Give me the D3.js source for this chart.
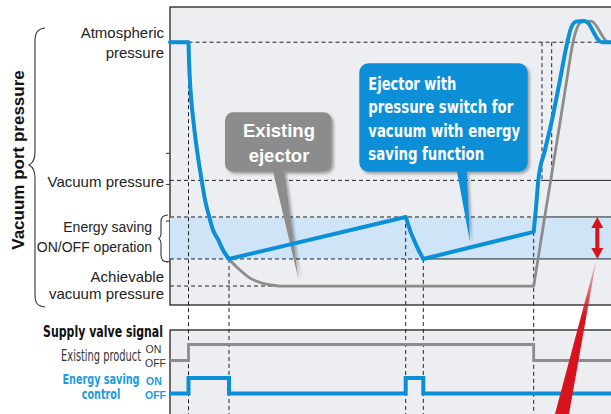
<!DOCTYPE html>
<html>
<head>
<meta charset="utf-8">
<script src="https://cdn.jsdelivr.net/npm/d3@7"></script>
<style>
  body { margin: 0; background: #fff; }
  svg { display: block; }
</style>
</head>
<body>
<script>
// time in ms (x), vacuum port pressure in kPa gauge (y)
var levels = { atm: 0, vac: -51, bandTop: -64.5, bandBot: -80, achievable: -90 };

// existing ejector (grey) pressure curve
var greyHold = [[0,0],[18.5,0]];
var greyDrop = [[18.5,0],[19,-6.6],[20.5,-17.6],[23.3,-28.7],[27,-39.8],[31.7,-51],[35,-58.2],[39.3,-64.5],[43,-69.3],[48.3,-73],[53,-76.7],[59,-80],[70,-84.1],[80,-87.1],[93,-89],[110,-90]];
var greyFlat = [[110,-90],[363.7,-90]];
var greyRecover = [[363.7,-90],[374.7,-64.5],[380.7,-51],[390.4,-28.7],[396.8,-13.9],[403,0],[407,5.2],[412,7.5],[421,7.8],[425,6.7],[430,3.8],[434,1.4],[438,0],[441,0]];

// energy saving ejector (blue) pressure curve
var blueHold = [[0,0],[18.5,0]];
var blueDrop = [[18.5,0],[19,-6.6],[20.5,-17.6],[23.3,-28.7],[27,-39.8],[31.7,-51],[35,-58.2],[39.3,-64.5],[43,-69.3],[48.3,-73],[53,-76.7],[59,-80]];
var blueLeak1 = [[59,-80],[235.7,-64.5]];
var blueDrop2 = [[235.7,-64.5],[238,-67.1],[240.5,-69.9],[244,-73],[248,-76.3],[253.3,-80]];
var blueLeak2 = [[253.3,-80],[363.7,-70]];
var blueRecover = [[363.7,-70],[366,-61.2],[368.3,-51],[375,-39.8],[382,-28.7],[390,-13.9],[397.3,0],[401,5.2],[406,7.6],[414,7.8],[419,6.7],[424,3.4],[428,1],[432,0],[441,0]];

// supply valve signals (1 = ON, 0 = OFF)
var existingSignal = [[0,0],[18.5,1],[363.7,0],[441,0]];
var savingSignal = [[0,0],[18.5,1],[59,0],[235.7,1],[253.3,0],[441,0]];

// vertical guide lines: time, pressure they start from
var guides = [[18.5,0],[59,-80],[235.7,-64.5],[253.3,-80],[363.7,-70]];
var riseGuides = [372,381.7];

var W = 611, H = 414;
var BLUE = "#0a8fd8", GREY = "#8c8c8c", BG = "#eceef1", BAND = "#cfe5f7";
var NARROW = "'Liberation Sans Narrow','Arial Narrow','DejaVu Sans Condensed',sans-serif";
var SANS = "'Liberation Sans',Arial,sans-serif";

var svg = d3.select("body").append("svg").attr("width", W).attr("height", H);
var defs = svg.append("defs");
var f = defs.append("filter").attr("id", "shadow").attr("x", "-20%").attr("y", "-20%").attr("width", "150%").attr("height", "150%");
f.append("feDropShadow").attr("dx", 2).attr("dy", 2).attr("stdDeviation", 1.8).attr("flood-color", "#000").attr("flood-opacity", 0.35);
var rg = defs.append("linearGradient").attr("id", "redfade").attr("x1", 0).attr("y1", 0).attr("x2", 0).attr("y2", 1);
rg.append("stop").attr("offset", "0%").attr("stop-color", "#d7141e").attr("stop-opacity", 0.2);
rg.append("stop").attr("offset", "35%").attr("stop-color", "#d7141e").attr("stop-opacity", 1);

var x = d3.scaleLinear().domain([0, 441]).range([170, 611]);
var y = d3.scaleLinear().domain([13, -97]).range([7, 305]);
var yExist = d3.scaleLinear().domain([0, 1]).range([360.5, 344.5]);
var ySave = d3.scaleLinear().domain([0, 1]).range([393.5, 378]);

////////////////////////////
// Panels
svg.append("rect").attr("x", x(0)).attr("y", y(13)).attr("width", 460).attr("height", y(-97) - y(13))
    .attr("fill", BG).attr("stroke", "#111").attr("stroke-width", 1.2);
svg.append("rect").attr("x", x(0)).attr("y", y(levels.bandTop)).attr("width", 460)
    .attr("height", y(levels.bandBot) - y(levels.bandTop)).attr("fill", BAND);
svg.append("rect").attr("x", x(0)).attr("y", 330).attr("width", 460).attr("height", 100)
    .attr("fill", BG).attr("stroke", "#111").attr("stroke-width", 1.2);

// little ticks on the pressure axis
[-41, -52.5, -66, -81].forEach(function(p) {
    svg.append("line").attr("x1", x(0) - 4).attr("x2", x(0)).attr("y1", y(p)).attr("y2", y(p))
        .attr("stroke", "#333").attr("stroke-width", 1);
});

////////////////////////////
// Reference lines
function hline(p, t0, t1, dashed) {
    svg.append("line").attr("x1", x(t0)).attr("x2", x(t1)).attr("y1", y(p)).attr("y2", y(p))
        .attr("stroke", "#222").attr("stroke-width", 1)
        .attr("stroke-dasharray", dashed ? "4,3" : null);
}
hline(levels.atm, 18.5, 441, true);
hline(levels.vac, 0, 372, true);
hline(levels.vac, 372, 441, false);
hline(levels.bandTop, 0, 363.7, true);
hline(levels.bandTop, 363.7, 441, false);
hline(levels.bandBot, 0, 253.3, true);
hline(levels.bandBot, 253.3, 441, false);
hline(levels.achievable, 0, 110, true);

guides.forEach(function(g) {
    svg.append("line").attr("x1", x(g[0])).attr("x2", x(g[0])).attr("y1", y(g[1])).attr("y2", H)
        .attr("stroke", "#222").attr("stroke-width", 1).attr("stroke-dasharray", "4,3");
});
riseGuides.forEach(function(t) {
    svg.append("line").attr("x1", x(t)).attr("x2", x(t)).attr("y1", y(levels.atm)).attr("y2", y(levels.vac))
        .attr("stroke", "#222").attr("stroke-width", 1).attr("stroke-dasharray", "4,3");
});

////////////////////////////
// Text helper: squeezes a label to a given width with a horizontal scale
function label(txt, xx, yy, opts) {
    opts = opts || {};
    var t = svg.append("text").attr("dominant-baseline", opts.baseline || "central")
        .attr("text-anchor", opts.anchor || "end").attr("fill", opts.fill || "#222")
        .attr("font-family", opts.family || SANS).attr("font-size", opts.size || "15px")
        .attr("font-weight", opts.weight || "normal")
        .text(txt);
    var s = 1;
    if (opts.len) s = opts.len / t.node().getComputedTextLength();
    t.attr("transform", "translate(" + xx + "," + yy + ") scale(" + s + ",1)");
    return t;
}

////////////////////////////
// Callouts (pointer + rounded box)
var calloutG = svg.append("g").attr("filter", "url(#shadow)");
calloutG.append("path").attr("d", "M272.7,170 L284.3,170 L298.3,278.3 Z").attr("fill", GREY);
calloutG.append("rect").attr("x", 225).attr("y", 112.3).attr("width", 106.7).attr("height", 59.4)
    .attr("rx", 8).attr("fill", GREY);
calloutG.append("path").attr("d", "M456.7,170 L466.7,170 L470,241.7 Z").attr("fill", BLUE);
calloutG.append("rect").attr("x", 359.3).attr("y", 63.3).attr("width", 168.4).attr("height", 108.4)
    .attr("rx", 9).attr("fill", BLUE);

["Existing", "ejector"].forEach(function(d, i) {
    label(d, 279, 137 + i * 24.5, { anchor: "middle", baseline: "auto", fill: "#fff", weight: "bold", size: "18.5px" });
});

var blueLines = [["Ejector with", 88], ["pressure switch for", 145], ["vacuum with energy", 152], ["saving function", 116]];
blueLines.forEach(function(d, i) {
    label(d[0], 368.3, 90 + i * 23.4, { anchor: "start", baseline: "auto", fill: "#fff", weight: "bold",
        family: NARROW, size: "18px", len: d[1] });
});

////////////////////////////
// Pressure curves
var line = d3.line().x(function(d) { return x(d[0]); }).y(function(d) { return y(d[1]); });
var smooth = d3.line().x(function(d) { return x(d[0]); }).y(function(d) { return y(d[1]); }).curve(d3.curveMonotoneX);

function curve(segs, color, w) {
    var d = segs.map(function(s) { return (s.length > 2 ? smooth : line)(s); }).join("");
    svg.append("path").attr("d", d).attr("fill", "none").attr("stroke", color)
        .attr("stroke-width", w).attr("stroke-linecap", "round").attr("stroke-linejoin", "round");
}
curve([greyHold, greyDrop, greyFlat, greyRecover], GREY, 2.8);
curve([blueHold, blueDrop, blueLeak1, blueDrop2, blueLeak2, blueRecover], BLUE, 4);

////////////////////////////
// Supply valve signals
var stepE = d3.line().x(function(d) { return x(d[0]); }).y(function(d) { return yExist(d[1]); }).curve(d3.curveStepAfter);
var stepS = d3.line().x(function(d) { return x(d[0]); }).y(function(d) { return ySave(d[1]); }).curve(d3.curveStepAfter);
svg.append("path").attr("d", stepE(existingSignal)).attr("fill", "none").attr("stroke", GREY).attr("stroke-width", 2.8);
svg.append("path").attr("d", stepS(savingSignal)).attr("fill", "none").attr("stroke", BLUE).attr("stroke-width", 4);

////////////////////////////
// Red band arrow + pointer
var ax = 597.3, at = y(levels.bandTop), ab = y(levels.bandBot);
svg.append("path").attr("d", "M555,414 L569,414 L595.8,263 L595.2,263 Z").attr("fill", "url(#redfade)");
svg.append("path")
    .attr("d", "M" + ax + "," + at + " L" + (ax + 6) + "," + (at + 11) + " L" + (ax + 2) + "," + (at + 11) +
        " L" + (ax + 2) + "," + (ab - 11) + " L" + (ax + 6) + "," + (ab - 11) + " L" + ax + "," + ab +
        " L" + (ax - 6) + "," + (ab - 11) + " L" + (ax - 2) + "," + (ab - 11) + " L" + (ax - 2) + "," + (at + 11) +
        " L" + (ax - 6) + "," + (at + 11) + " Z")
    .attr("fill", "#d7141e");

////////////////////////////
// Left labels
label("Atmospheric", 164, y(levels.atm) - 9.5);
label("pressure", 164, y(levels.atm) + 10.5);
label("Vacuum pressure", 164, y(levels.vac) + 1);
label("Energy saving", 152, (y(levels.bandTop) + y(levels.bandBot)) / 2 - 11, { size: "14px" });
label("ON/OFF operation", 152, (y(levels.bandTop) + y(levels.bandBot)) / 2 + 9, { size: "14px" });
label("Achievable", 164, y(levels.achievable) - 9.5);
label("vacuum pressure", 164, y(levels.achievable) + 7.5);

svg.append("text").attr("transform", "translate(24,160) rotate(-90)").attr("text-anchor", "middle")
    .attr("font-family", SANS).attr("font-weight", "bold").attr("font-size", "17px").attr("fill", "#111")
    .text("Vacuum port pressure");

// braces
svg.append("path").attr("d", "M45,28 C37,29 35,33 35,42 L35,152 C35,160 33,163 29,165 C33,167 35,170 35,178 L35,294 C35,303 37,306 45,307")
    .attr("fill", "none").attr("stroke", "#333").attr("stroke-width", 1.1);
svg.append("path").attr("d", "M168,215 C163,215 161,217 161,222 L161,233 C161,236 160,238 158,238.5 C160,239 161,241 161,244 L161,255 C161,260 163,262 168,262")
    .attr("fill", "none").attr("stroke", "#333").attr("stroke-width", 1.1);

label("Supply valve signal", 163, 331.5, { weight: "bold", family: NARROW, size: "16px", len: 120, fill: "#111" });
label("Existing product", 141, 355, { family: NARROW, size: "16px", len: 80, fill: "#333" });
label("ON", 145.5, 348.5, { anchor: "start", size: "10.5px", fill: "#333" });
label("OFF", 145, 362.5, { anchor: "start", size: "10.5px", fill: "#333" });
label("Energy saving", 101, 379.3, { anchor: "middle", weight: "bold", family: NARROW, size: "13.2px", len: 77, fill: "#1b9be0" });
label("control", 101, 394.5, { anchor: "middle", weight: "bold", family: NARROW, size: "13.2px", len: 38.5, fill: "#1b9be0" });
label("ON", 146, 381, { anchor: "start", weight: "bold", size: "10.5px", fill: "#1b9be0" });
label("OFF", 145, 395, { anchor: "start", weight: "bold", size: "10.5px", fill: "#1b9be0" });
</script>
</body>
</html>
